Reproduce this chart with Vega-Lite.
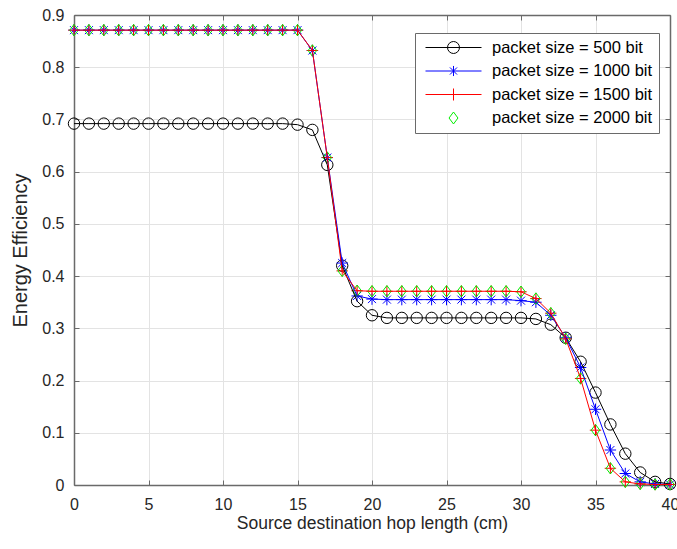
{
  "$schema": "https://vega.github.io/schema/vega-lite/v6.json",
  "width": 596,
  "height": 470,
  "autosize": {"type": "none"},
  "padding": {"left": 74, "top": 15, "right": 7, "bottom": 64},
  "background": "white",
  "config": {
    "view": {"stroke": null},
    "font": "Liberation Sans",
    "axis": {
      "labelFont": "Liberation Sans",
      "titleFont": "Liberation Sans",
      "labelColor": "#262626",
      "titleColor": "#262626",
      "labelFontSize": 16,
      "titleFontSize": 17.5,
      "titleFontWeight": "normal",
      "domainColor": "#6a6a6a",
      "tickColor": "#6a6a6a",
      "gridColor": "#e3e3e3",
      "gridWidth": 1,
      "domainWidth": 1.5
    },
    "legend": {
      "orient": "none", "legendX": 341, "legendY": 18,
      "labelFont": "Liberation Sans", "labelFontSize": 16.5, "labelColor": "#000000", "labelLimit": 400,
      "symbolSize": 3136, "clipHeight": 17, "rowPadding": 6.5,
      "labelOffset": 10, "symbolOffset": 4, "padding": 6,
      "strokeColor": "#6a6a6a", "fillColor": "#ffffff",
      "symbolStrokeWidth": 1, "symbolFillColor": "transparent", "symbolOpacity": 1
    }
  },
  "datasets": {
    "d": [
      {"x":0,"s":"500","y":0.692},{"x":1,"s":"500","y":0.692},{"x":2,"s":"500","y":0.692},{"x":3,"s":"500","y":0.692},{"x":4,"s":"500","y":0.692},{"x":5,"s":"500","y":0.692},{"x":6,"s":"500","y":0.692},{"x":7,"s":"500","y":0.692},{"x":8,"s":"500","y":0.692},{"x":9,"s":"500","y":0.692},{"x":10,"s":"500","y":0.692},{"x":11,"s":"500","y":0.692},{"x":12,"s":"500","y":0.692},{"x":13,"s":"500","y":0.692},{"x":14,"s":"500","y":0.692},{"x":15,"s":"500","y":0.69},{"x":16,"s":"500","y":0.68},{"x":17,"s":"500","y":0.613},{"x":18,"s":"500","y":0.42},{"x":19,"s":"500","y":0.352},{"x":20,"s":"500","y":0.325},{"x":21,"s":"500","y":0.32},{"x":22,"s":"500","y":0.32},{"x":23,"s":"500","y":0.32},{"x":24,"s":"500","y":0.32},{"x":25,"s":"500","y":0.32},{"x":26,"s":"500","y":0.32},{"x":27,"s":"500","y":0.32},{"x":28,"s":"500","y":0.32},{"x":29,"s":"500","y":0.32},{"x":30,"s":"500","y":0.32},{"x":31,"s":"500","y":0.318},{"x":32,"s":"500","y":0.307},{"x":33,"s":"500","y":0.282},{"x":34,"s":"500","y":0.236},{"x":35,"s":"500","y":0.177},{"x":36,"s":"500","y":0.116},{"x":37,"s":"500","y":0.06},{"x":38,"s":"500","y":0.024},{"x":39,"s":"500","y":0.006},{"x":40,"s":"500","y":0.002},
      {"x":0,"s":"1000","y":0.871},{"x":1,"s":"1000","y":0.871},{"x":2,"s":"1000","y":0.871},{"x":3,"s":"1000","y":0.871},{"x":4,"s":"1000","y":0.871},{"x":5,"s":"1000","y":0.871},{"x":6,"s":"1000","y":0.871},{"x":7,"s":"1000","y":0.871},{"x":8,"s":"1000","y":0.871},{"x":9,"s":"1000","y":0.871},{"x":10,"s":"1000","y":0.871},{"x":11,"s":"1000","y":0.871},{"x":12,"s":"1000","y":0.871},{"x":13,"s":"1000","y":0.871},{"x":14,"s":"1000","y":0.871},{"x":15,"s":"1000","y":0.871},{"x":16,"s":"1000","y":0.832},{"x":17,"s":"1000","y":0.627},{"x":18,"s":"1000","y":0.425},{"x":19,"s":"1000","y":0.362},{"x":20,"s":"1000","y":0.356},{"x":21,"s":"1000","y":0.355},{"x":22,"s":"1000","y":0.355},{"x":23,"s":"1000","y":0.355},{"x":24,"s":"1000","y":0.355},{"x":25,"s":"1000","y":0.355},{"x":26,"s":"1000","y":0.355},{"x":27,"s":"1000","y":0.355},{"x":28,"s":"1000","y":0.355},{"x":29,"s":"1000","y":0.355},{"x":30,"s":"1000","y":0.353},{"x":31,"s":"1000","y":0.35},{"x":32,"s":"1000","y":0.325},{"x":33,"s":"1000","y":0.282},{"x":34,"s":"1000","y":0.225},{"x":35,"s":"1000","y":0.145},{"x":36,"s":"1000","y":0.067},{"x":37,"s":"1000","y":0.022},{"x":38,"s":"1000","y":0.006},{"x":39,"s":"1000","y":0.002},{"x":40,"s":"1000","y":0.001},
      {"x":0,"s":"1500","y":0.871},{"x":1,"s":"1500","y":0.871},{"x":2,"s":"1500","y":0.871},{"x":3,"s":"1500","y":0.871},{"x":4,"s":"1500","y":0.871},{"x":5,"s":"1500","y":0.871},{"x":6,"s":"1500","y":0.871},{"x":7,"s":"1500","y":0.871},{"x":8,"s":"1500","y":0.871},{"x":9,"s":"1500","y":0.871},{"x":10,"s":"1500","y":0.871},{"x":11,"s":"1500","y":0.871},{"x":12,"s":"1500","y":0.871},{"x":13,"s":"1500","y":0.871},{"x":14,"s":"1500","y":0.871},{"x":15,"s":"1500","y":0.871},{"x":16,"s":"1500","y":0.832},{"x":17,"s":"1500","y":0.627},{"x":18,"s":"1500","y":0.41},{"x":19,"s":"1500","y":0.372},{"x":20,"s":"1500","y":0.371},{"x":21,"s":"1500","y":0.371},{"x":22,"s":"1500","y":0.371},{"x":23,"s":"1500","y":0.371},{"x":24,"s":"1500","y":0.371},{"x":25,"s":"1500","y":0.371},{"x":26,"s":"1500","y":0.371},{"x":27,"s":"1500","y":0.371},{"x":28,"s":"1500","y":0.371},{"x":29,"s":"1500","y":0.371},{"x":30,"s":"1500","y":0.37},{"x":31,"s":"1500","y":0.357},{"x":32,"s":"1500","y":0.329},{"x":33,"s":"1500","y":0.28},{"x":34,"s":"1500","y":0.204},{"x":35,"s":"1500","y":0.105},{"x":36,"s":"1500","y":0.032},{"x":37,"s":"1500","y":0.006},{"x":38,"s":"1500","y":0.002},{"x":39,"s":"1500","y":0.001},{"x":40,"s":"1500","y":0.001},
      {"x":0,"s":"2000","y":0.871},{"x":1,"s":"2000","y":0.871},{"x":2,"s":"2000","y":0.871},{"x":3,"s":"2000","y":0.871},{"x":4,"s":"2000","y":0.871},{"x":5,"s":"2000","y":0.871},{"x":6,"s":"2000","y":0.871},{"x":7,"s":"2000","y":0.871},{"x":8,"s":"2000","y":0.871},{"x":9,"s":"2000","y":0.871},{"x":10,"s":"2000","y":0.871},{"x":11,"s":"2000","y":0.871},{"x":12,"s":"2000","y":0.871},{"x":13,"s":"2000","y":0.871},{"x":14,"s":"2000","y":0.871},{"x":15,"s":"2000","y":0.871},{"x":16,"s":"2000","y":0.832},{"x":17,"s":"2000","y":0.627},{"x":18,"s":"2000","y":0.41},{"x":19,"s":"2000","y":0.372},{"x":20,"s":"2000","y":0.371},{"x":21,"s":"2000","y":0.371},{"x":22,"s":"2000","y":0.371},{"x":23,"s":"2000","y":0.371},{"x":24,"s":"2000","y":0.371},{"x":25,"s":"2000","y":0.371},{"x":26,"s":"2000","y":0.371},{"x":27,"s":"2000","y":0.371},{"x":28,"s":"2000","y":0.371},{"x":29,"s":"2000","y":0.371},{"x":30,"s":"2000","y":0.37},{"x":31,"s":"2000","y":0.357},{"x":32,"s":"2000","y":0.329},{"x":33,"s":"2000","y":0.28},{"x":34,"s":"2000","y":0.204},{"x":35,"s":"2000","y":0.105},{"x":36,"s":"2000","y":0.032},{"x":37,"s":"2000","y":0.006},{"x":38,"s":"2000","y":0.002},{"x":39,"s":"2000","y":0.001},{"x":40,"s":"2000","y":0.001}
    ]
  },
  "data": {"name": "d"},
  "resolve": {"axis": {"x": "independent", "y": "independent"}},
  "layer": [
    {
      "mark": {"type": "point", "filled": false, "strokeWidth": 1, "size": 130, "opacity": 1,
               "shape": {"expr": "datum.s == '500' ? 'circle' : datum.s == '1000' ? 'M-1,0L1,0M0,-1L0,1M-0.7,-0.7L0.7,0.7M-0.7,0.7L0.7,-0.7' : datum.s == '1500' ? 'M-1,0L1,0M0,-1L0,1' : 'M0,-1L0.75,0L0,1L-0.75,0Z'"}},
      "encoding": {
        "x": {"field": "x", "type": "quantitative",
              "scale": {"domain": [0, 40], "nice": false, "zero": false},
              "axis": {"title": "Source destination hop length (cm)", "values": [0,5,10,15,20,25,30,35,40],
                       "grid": true, "tickSize": -5, "labelPadding": 16, "titlePadding": 2, "labelFlush": false}},
        "y": {"field": "y", "type": "quantitative",
              "scale": {"domain": [0, 0.9], "nice": false},
              "axis": {"title": "Energy Efficiency", "titleFontSize": 20, "values": [0,0.1,0.2,0.3,0.4,0.5,0.6,0.7,0.8,0.9], "format": "~g",
                       "grid": true, "tickSize": -5, "labelPadding": 15, "titlePadding": 11, "labelFlush": false}},
        "color": {"field": "s", "type": "nominal",
                  "scale": {"domain": ["500","1000","1500","2000"], "range": ["#000000","#0000ff","#ff0000","#00ee00"]},
                  "legend": {
                    "title": null,
                    "labelExpr": "'packet size = ' + datum.label + ' bit\u00a0\u00a0\u00a0'",
                    "symbolType": {"expr": "datum.value == '500' ? 'M-1,0L1,0M0.214,0L0.198,0.082L0.151,0.151L0.082,0.198L0,0.214L-0.082,0.198L-0.151,0.151L-0.198,0.082L-0.214,0L-0.198,-0.082L-0.151,-0.151L-0.082,-0.198L0,-0.214L0.082,-0.198L0.151,-0.151L0.198,-0.082Z' : datum.value == '1000' ? 'M-1,0L1,0M0,-0.18L0,0.18M-0.127,-0.127L0.127,0.127M-0.127,0.127L0.127,-0.127' : datum.value == '1500' ? 'M-1,0L1,0M0,-0.214L0,0.214' : 'M0,-0.214L0.16,0L0,0.214L-0.16,0Z'"}
                  }}
      }
    },
    {
      "transform": [{"filter": "datum.s != '2000'"}],
      "mark": {"type": "line", "strokeWidth": 1},
      "encoding": {
        "x": {"field": "x", "type": "quantitative",
              "scale": {"domain": [0, 40], "nice": false, "zero": false},
              "axis": {"orient": "top", "title": null, "labels": false, "grid": false, "tickSize": -5, "values": [0,5,10,15,20,25,30,35,40]}},
        "y": {"field": "y", "type": "quantitative",
              "scale": {"domain": [0, 0.9], "nice": false},
              "axis": {"orient": "right", "title": null, "labels": false, "grid": false, "tickSize": -5, "values": [0,0.1,0.2,0.3,0.4,0.5,0.6,0.7,0.8,0.9]}},
        "color": {"field": "s", "type": "nominal",
                  "scale": {"domain": ["500","1000","1500","2000"], "range": ["#000000","#0000ff","#ff0000","#00ee00"]}},
        "detail": {"field": "s"}
      }
    }
  ]
}
